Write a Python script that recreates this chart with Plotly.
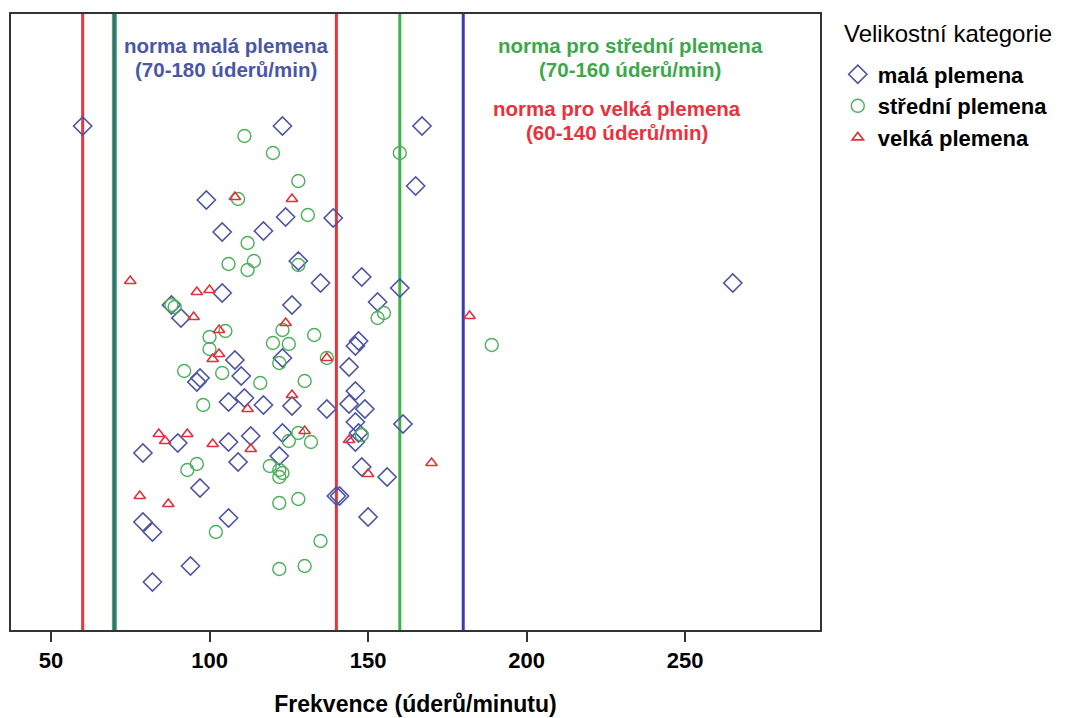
import plotly.graph_objects as go

# Heart rate (beats/min) and vertical jitter position (arbitrary units) per size category
small_bpm = [60, 123, 167, 165, 99, 124, 139, 104, 117, 128, 135, 148, 160, 153, 104, 126, 91, 88,
             146, 147, 108, 123, 144, 97, 96, 110, 146, 106, 111, 117, 126, 137, 144, 149, 146, 161,
             90, 79, 106, 113, 123, 147, 146, 109, 122, 148, 156, 97, 140, 141, 79, 82, 106, 150,
             94, 82, 265]
small_jit = [504, 504, 504, 444, 430, 413, 412, 398, 399, 369, 347, 353, 342, 328, 337, 325, 312, 325,
             284, 289, 270, 272, 263, 252, 248, 254, 239, 228, 232, 225, 224, 221, 226, 221, 208, 206,
             187, 177, 188, 194, 197, 197, 188, 168, 174, 163, 153, 142, 134, 134, 108, 98, 112, 113,
             64, 48, 347]

medium_bpm = [111, 120, 160, 128, 109, 131, 112, 106, 114, 112, 128, 155, 153, 88, 89, 100, 105, 100,
              123, 120, 125, 133, 137, 122, 92, 104, 116, 130, 189, 98, 125, 128, 132, 148, 93, 96,
              119, 122, 123, 122, 122, 128, 102, 135, 122, 130]
medium_jit = [494, 477, 477, 449, 431, 415, 387, 366, 369, 360, 365, 317, 312, 325, 323, 293, 299, 281,
              300, 287, 286, 295, 272, 267, 259, 257, 247, 249, 285, 225, 189, 197, 188, 195, 160, 166,
              164, 160, 157, 153, 127, 131, 98, 89, 61, 64]

large_bpm = [108, 126, 75, 96, 100, 95, 124, 103, 103, 101, 137, 182, 126, 112, 84, 86, 93, 101, 113,
             130, 144, 150, 170, 78, 87]
large_jit = [433, 431, 349, 338, 340, 313, 307, 300, 276, 271, 272, 314, 235, 221, 196, 189, 196, 186,
             181, 199, 190, 156, 167, 134, 126]

category_names = ["malá plemena", "střední plemena", "velká plemena"]
legend_title = "Velikostní kategorie"

# Reference norms: (value, colour, width)
norm_lines = [(60, "#e8343c", 3), (140, "#e8343c", 3), (70, "#3cb44b", 5), (160, "#3cb44b", 3),
              (70, "#3f5d9c", 2.5), (180, "#3a3ab8", 3)]

# Norm labels: (lines, colour, centre bpm, jitter of each line)
norm_labels = [
    (["norma malá plemena", "(70-180 úderů/min)"], "#4a56a6", 105.2, [585, 561]),
    (["norma pro střední plemena", "(70-160 úderů/min)"], "#3da84a", 232.6, [585, 561]),
    (["norma pro velká plemena", "(60-140 úderů/min)"], "#e8323c", 228.5, [522, 498]),
]

x_ticks = [50, 100, 150, 200, 250]

BLUE = "#4d55a3"
GREEN = "#4cb05a"
RED = "#e0323c"
FONT = "Liberation Sans, Arial, sans-serif"

fig = go.Figure()

for v, c, w in norm_lines:
    fig.add_shape(type="line", xref="x", yref="paper", x0=v, x1=v, y0=0, y1=1,
                  line=dict(color=c, width=w), layer="below")

fig.add_trace(go.Scatter(x=small_bpm, y=small_jit, mode="markers", name=category_names[0],
                         marker=dict(symbol="diamond-open", size=14, color=BLUE, line=dict(width=1.6))))
fig.add_trace(go.Scatter(x=medium_bpm, y=medium_jit, mode="markers", name=category_names[1],
                         marker=dict(symbol="circle-open", size=13, color=GREEN, line=dict(width=1.4))))
fig.add_trace(go.Scatter(x=large_bpm, y=large_jit, mode="markers", name=category_names[2],
                         marker=dict(symbol="triangle-up-open", size=10, color=RED, line=dict(width=1.6))))

for lines, col, xc, ys in norm_labels:
    for txt, yy in zip(lines, ys):
        fig.add_annotation(x=xc, y=yy, xref="x", yref="y", showarrow=False,
                           text="<b>" + txt + "</b>",
                           font=dict(family=FONT, size=20.5, color=col))

# legend heading
fig.add_annotation(x=1.0275, y=0.968, xref="paper", yref="paper", xanchor="left", yanchor="middle",
                   showarrow=False, text=legend_title, font=dict(family=FONT, size=24, color="black"))

fig.update_layout(
    width=1073, height=718,
    paper_bgcolor="white", plot_bgcolor="white",
    margin=dict(l=3, r=261, t=6, b=96),
    font=dict(family=FONT, color="black"),
    showlegend=True,
    legend=dict(
        font=dict(size=22, color="black", weight="bold"),
        x=1.022, xanchor="left", y=0.936, yanchor="top",
        bgcolor="rgba(0,0,0,0)", itemsizing="trace",
    ),
    xaxis=dict(
        range=[37.4, 292.5], tickvals=x_ticks, ticktext=[str(t) for t in x_ticks],
        showgrid=False, zeroline=False, showline=True, linecolor="#333", linewidth=1.5,
        mirror=True, ticks="outside", ticklen=10, tickcolor="#333", tickwidth=1.5,
        tickfont=dict(size=22, color="black", weight="bold"),
        title=dict(text="<b>Frekvence (úderů/minutu)</b>", font=dict(size=23, color="black"), standoff=24),
    ),
    yaxis=dict(
        range=[0, 616], showticklabels=False, ticks="", showgrid=False, zeroline=False,
        showline=True, linecolor="#333", linewidth=1.5, mirror=True,
    ),
)

fig.write_html("out.html")
